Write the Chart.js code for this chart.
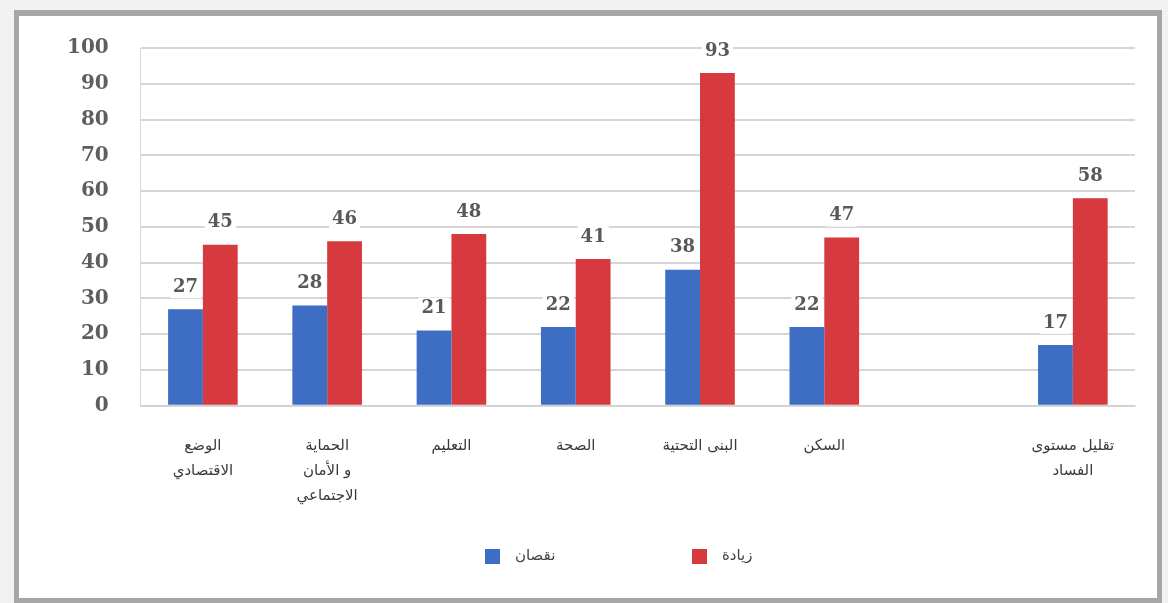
<!DOCTYPE html>
<html lang="ar">
<head>
<meta charset="utf-8">
<script src="https://cdn.jsdelivr.net/npm/chart.js@4.4.0/dist/chart.umd.min.js"></script>
<style>
  html, body { margin: 0; padding: 0; background: #f2f2f2; }
  #frame {
    position: absolute; left: 14px; top: 10px;
    width: 1138px; height: 582px;
    border: 5px solid #a6a6a6;
    border-top-width: 6px;
    background: #fff;
  }
  #chartBox { position: absolute; left: 0; top: 0; width: 1138px; height: 582px; }
</style>
</head>
<body>
<div id="frame"><div id="chartBox"><canvas id="barChart"></canvas></div></div>
<script>
// sectors, the empty slot keeps the gap before the last group
const categories = [
  ["الوضع", "الاقتصادي"],
  ["الحماية", "و الأمان", "الاجتماعي"],
  "التعليم",
  "الصحة",
  "البنى التحتية",
  "السكن",
  "",
  ["تقليل مستوى", "الفساد"]
];
const decreaseValues = [27, 28, 21, 22, 38, 22, null, 17];
const increaseValues = [45, 46, 48, 41, 93, 47, null, 58];
const seriesNames = ["نقصان", "زيادة"];
const yTicks = [0, 10, 20, 30, 40, 50, 60, 70, 80, 90, 100];

const BLUE = "#3e6dc4";
const RED = "#d63a3f";

// value labels over each bar, on a white patch
const barLabels = {
  id: "barLabels",
  afterDatasetsDraw(chart) {
    const ctx = chart.ctx;
    ctx.save();
    ctx.font = "bold 18px 'DejaVu Serif'";
    ctx.textAlign = "center";
    ctx.textBaseline = "middle";
    chart.data.datasets.forEach((ds, i) => {
      chart.getDatasetMeta(i).data.forEach((bar, j) => {
        const v = ds.data[j];
        if (v == null) return;
        const y = bar.y - 22;
        const w = ctx.measureText(String(v)).width + 6;
        ctx.fillStyle = "#fff";
        ctx.fillRect(bar.x - w / 2, y - 11, w, 22);
        ctx.fillStyle = "#595959";
        ctx.fillText(v, bar.x, y);
      });
    });
    ctx.restore();
  }
};

// legend under the axis labels, items spread apart
const spreadLegend = {
  id: "spreadLegend",
  afterDraw(chart) {
    const ctx = chart.ctx;
    const mid = chart.width / 2;
    const y = chart.height - 42;
    const offsets = [-103, 104];
    ctx.save();
    ctx.font = "15px 'DejaVu Sans'";
    ctx.textBaseline = "middle";
    ctx.textAlign = "left";
    chart.data.datasets.forEach((ds, i) => {
      const x = mid + offsets[i];
      ctx.fillStyle = ds.backgroundColor;
      ctx.fillRect(x, y - 7, 15, 15);
      ctx.fillStyle = "#444";
      ctx.fillText(ds.label, x + 30, y);
    });
    ctx.restore();
  }
};

new Chart(document.getElementById("barChart"), {
  type: "bar",
  data: {
    labels: categories,
    datasets: [
      { label: seriesNames[0], data: decreaseValues, backgroundColor: BLUE },
      { label: seriesNames[1], data: increaseValues, backgroundColor: RED }
    ]
  },
  options: {
    responsive: true,
    maintainAspectRatio: false,
    animation: false,
    layout: { padding: { top: 32, right: 22, left: 16, bottom: 70 } },
    datasets: {
      bar: { categoryPercentage: 0.56, barPercentage: 1.0 }
    },
    scales: {
      x: {
        grid: { display: false },
        border: { color: "#d0d0d0" },
        ticks: {
          color: "#3a3a3a",
          font: { family: "DejaVu Sans", size: 15, lineHeight: 1.65 },
          maxRotation: 0,
          autoSkip: false,
          padding: 20
        }
      },
      y: {
        min: 0,
        max: 100,
        afterBuildTicks(axis) {
          axis.ticks = yTicks.map(v => ({ value: v }));
        },
        // the wide label gap should not push the plot down
        afterFit(axis) {
          axis.paddingTop = 12;
          axis.paddingBottom = 12;
        },
        grid: { color: "#d6d6d6", lineWidth: 2, drawTicks: false },
        border: { display: true, color: "#d6d6d6" },
        ticks: {
          color: "#5e5e5e",
          font: { family: "DejaVu Serif", size: 20, weight: "bold" },
          padding: 32
        }
      }
    },
    plugins: {
      legend: { display: false },
      tooltip: { enabled: false }
    }
  },
  plugins: [barLabels, spreadLegend]
});
</script>
</body>
</html>
